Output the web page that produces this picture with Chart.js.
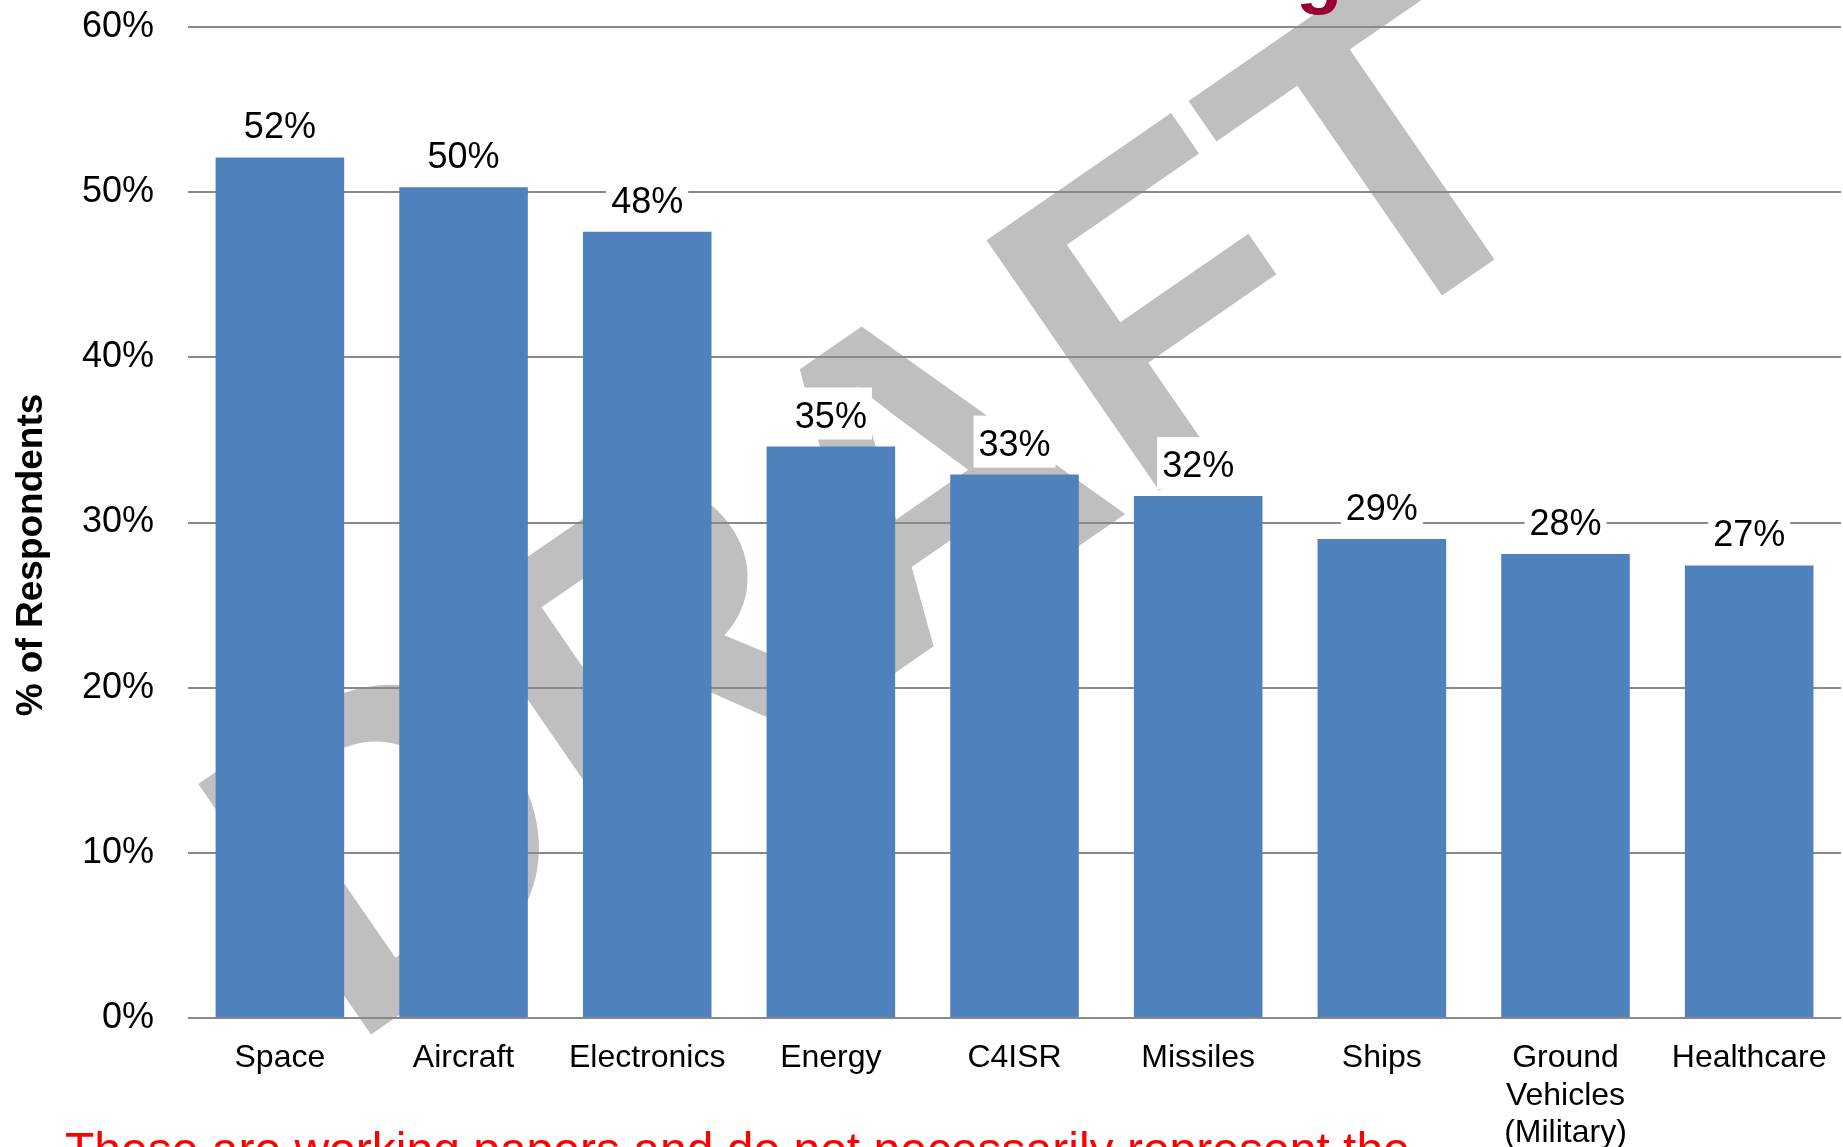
<!DOCTYPE html>
<html lang="en">
<head>
    <meta charset="UTF-8">
    <title>% of Respondents by Sector</title>
    <script src="https://cdn.jsdelivr.net/npm/chart.js"></script>
    <style>
        body {
            margin: 0;
            padding: 0;
            background: #fff;
        }
        .wrap {
            width: 1843px;
            height: 1147px;
            position: relative;
        }
    </style>
</head>
<body>
    <div class="wrap">
        <canvas id="sectorChart"></canvas>
    </div>

    <script>
        // sectors and share of respondents (%)
        const sectors = ['Space', 'Aircraft', 'Electronics', 'Energy', 'C4ISR', 'Missiles', 'Ships',
            ['Ground', 'Vehicles', '(Military)'], 'Healthcare'];
        const respondents = [52.1, 50.3, 47.6, 34.6, 32.9, 31.6, 29.0, 28.1, 27.4];
        const yTicks = [0, 10, 20, 30, 40, 50, 60];

        const FONT = "'Liberation Sans', Arial, sans-serif";

        // DRAFT watermark + cut-off title letter, behind the grid
        const backdrop = {
            id: 'backdrop',
            beforeDraw(chart) {
                const ctx = chart.ctx;
                ctx.save();
                ctx.translate(963, 626);
                ctx.rotate(-34.6 * Math.PI / 180);
                ctx.font = 'bold 442px ' + FONT;
                ctx.fillStyle = '#bfbfbf';
                ctx.textAlign = 'center';
                ctx.textBaseline = 'alphabetic';
                ctx.fillText('DRAFT', 0, 0);
                ctx.restore();

                ctx.save();
                ctx.font = 'bold 76px ' + FONT;
                ctx.fillStyle = '#990033';
                ctx.textBaseline = 'alphabetic';
                ctx.fillText('g', 1296, -1);
                ctx.restore();
            }
        };

        // value labels on white boxes above the bars, axis title, footnote
        const valueLabels = {
            id: 'valueLabels',
            afterDatasetsDraw(chart) {
                const ctx = chart.ctx;
                const meta = chart.getDatasetMeta(0);
                ctx.save();
                ctx.font = '36px ' + FONT;
                ctx.textAlign = 'center';
                ctx.textBaseline = 'alphabetic';
                meta.data.forEach((bar, i) => {
                    const txt = Math.round(respondents[i]) + '%';
                    const w = ctx.measureText(txt).width;
                    ctx.fillStyle = '#fff';
                    ctx.fillRect(bar.x - w / 2 - 5, bar.y - 59, w + 10, 52);
                    ctx.fillStyle = '#000';
                    ctx.fillText(txt, bar.x, bar.y - 19);
                });
                ctx.restore();
            },
            afterDraw(chart) {
                const ctx = chart.ctx;
                // y axis title sits a bit below the plot centre in the original
                ctx.save();
                ctx.translate(41.5, 555);
                ctx.rotate(-Math.PI / 2);
                ctx.font = 'bold 37px ' + FONT;
                ctx.fillStyle = '#000';
                ctx.textAlign = 'center';
                ctx.textBaseline = 'alphabetic';
                ctx.fillText('% of Respondents', 0, 0);
                ctx.restore();

                ctx.save();
                ctx.font = '48px ' + FONT;
                ctx.fillStyle = '#ff0000';
                ctx.textBaseline = 'alphabetic';
                ctx.fillText('These are working papers and do not necessarily represent the', 65, 1166);
                ctx.restore();
            }
        };

        new Chart(document.getElementById('sectorChart'), {
            type: 'bar',
            data: {
                labels: sectors,
                datasets: [{
                    data: respondents,
                    backgroundColor: '#4f81bd',
                    borderWidth: 0,
                    barPercentage: 0.7,
                    categoryPercentage: 1.0
                }]
            },
            options: {
                responsive: true,
                maintainAspectRatio: false,
                animation: false,
                layout: { padding: { top: 4, right: 2, bottom: 0, left: 48 } },
                plugins: {
                    legend: { display: false },
                    tooltip: { enabled: false }
                },
                scales: {
                    x: {
                        grid: { display: false, drawTicks: false },
                        border: { display: false },
                        ticks: {
                            color: '#000',
                            font: { family: FONT, size: 32, lineHeight: 1.16 },
                            padding: 22,
                            maxRotation: 0,
                            autoSkip: false
                        },
                        // padding is counted twice by chart.js, keep the axis band tight
                        afterFit(scale) {
                            scale.height = 129;
                            scale.paddingLeft = 0;
                            scale.paddingRight = 0;
                        }
                    },
                    y: {
                        min: yTicks[0],
                        max: yTicks[yTicks.length - 1],
                        afterBuildTicks(axis) {
                            axis.ticks = yTicks.map(v => ({ value: v }));
                        },
                        afterFit(scale) {
                            scale.paddingTop = 27;
                            scale.paddingBottom = 22;
                        },
                        grid: { color: '#8a8a8a', lineWidth: 2, drawTicks: false },
                        border: { display: false },
                        ticks: {
                            color: '#000',
                            font: { family: FONT, size: 36 },
                            padding: 34,
                            callback: v => v + '%'
                        }
                    }
                }
            },
            plugins: [backdrop, valueLabels]
        });
    </script>
</body>
</html>
